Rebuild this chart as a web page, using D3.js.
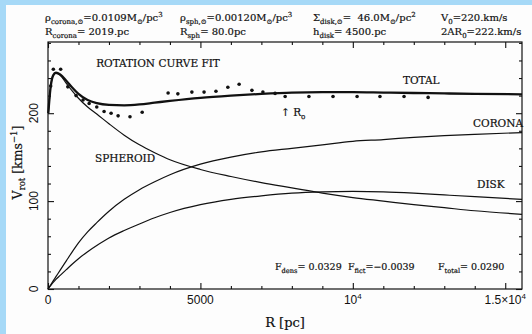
<!DOCTYPE html>
<html>
<head>
<meta charset="utf-8">
<script src="https://cdn.jsdelivr.net/npm/d3@7"></script>
<style>
  html, body { margin: 0; padding: 0; background: #fff; }
  svg { display: block; }
  .serif { font-family: "DejaVu Serif", "Liberation Serif", serif; fill: #111; stroke: #111; stroke-width: 0.2; white-space: pre; }
  .sans { font-family: "Liberation Sans", Arial, sans-serif; fill: #111; }
</style>
</head>
<body>
<div id="chart"></div>
<script>
// radius grid (pc) shared by the model curves
const radii = [0, 10, 80, 170, 260, 400, 600, 800, 1000, 1300, 1600, 2000, 2500, 3000, 3500,
  4000, 5000, 6000, 7000, 8000, 9000, 10000, 11000, 12000, 13000, 14000, 15550];

// model rotation curves (km/s)
const totalV = [null, 200, 228, 243, 246, 244, 237, 229, 222, 215, 211.5, 209.5, 209, 210, 212,
  214, 217.5, 220, 222, 223.5, 224, 224, 223.5, 223, 222.5, 222, 221.5];
const spheroidV = [null, 200, 228, 243, 246, 243, 234, 225, 217, 207, 199, 188, 175, 164, 155,
  147, 136, 128, 121, 115, 109, 104, 100, 96, 92.5, 89, 85];
const coronaV = [0, 0.5, 4.3, 9.2, 14, 21.5, 32, 42.5, 52.5, 65, 75.5, 88.5, 102, 113, 122,
  130, 142, 150, 156, 160, 164, 168, 170, 172.5, 174.5, 176, 178];
const diskV = [0, 0.5, 3.6, 7.5, 11, 15.5, 22, 28.5, 34.5, 42.5, 49.5, 58, 66.5, 74, 81,
  87, 96, 102, 106, 109, 110.5, 111, 110.5, 109, 107, 105, 102];

// observed points
const obsR = [88, 175, 415, 650, 920, 1150, 1350, 1600, 1840, 2070, 2300, 2690, 3090, 3940, 4260,
  4720, 5120, 5510, 5900, 6270, 6690, 7050, 7450, 7780, 8560, 9350, 10140, 10890, 11680, 12470];
const obsV = [231, 250, 250, 230, 220, 215, 211, 207, 202, 200, 197, 196, 201, 223, 222,
  224, 224, 225, 229.5, 233, 226, 224, 222.5, 219, 219, 219, 219, 219, 219, 218];

// ticks
const xMajor = [0, 5000, 10000, 15000];
const xMinor = d3.range(1000, 15001, 1000).filter(d => d % 5000 !== 0);
const yMajor = [0, 100, 200];
const yMinor = d3.range(20, 281, 20).filter(d => d % 100 !== 0);

const width = 532, height = 334;
const plot = { left: 48, right: 522, top: 42, bottom: 289 };

const svg = d3.select("#chart").append("svg")
  .attr("width", width).attr("height", height);

// light blue scan border
svg.append("rect").attr("width", width).attr("height", height).attr("fill", "#a6d9f7");
svg.append("rect").attr("x", 6).attr("y", 5).attr("width", width - 6).attr("height", height - 5)
  .attr("fill", "#fdfdfd");

const x = d3.scaleLinear().domain([0, 15550]).range([plot.left, plot.right]);
const y = d3.scaleLinear().domain([0, 281]).range([plot.bottom, plot.top]);

// axes: inward ticks on all four sides
function tickAxis(axisFn, scale, vals, size, pos) {
  const g = svg.append("g")
    .attr("transform", pos)
    .call(axisFn(scale).tickValues(vals).tickSize(-size).tickSizeOuter(0).tickFormat(""));
  g.select(".domain").remove();
  g.selectAll("line").attr("stroke", "#111").attr("stroke-width", 1.1);
  return g;
}
tickAxis(d3.axisBottom, x, xMinor, 3, `translate(0,${plot.bottom})`);
tickAxis(d3.axisBottom, x, xMajor, 6, `translate(0,${plot.bottom})`);
tickAxis(d3.axisTop, x, xMinor, 3, `translate(0,${plot.top})`);
tickAxis(d3.axisTop, x, xMajor, 6, `translate(0,${plot.top})`);
tickAxis(d3.axisLeft, y, yMinor, 3, `translate(${plot.left},0)`);
tickAxis(d3.axisLeft, y, yMajor, 6, `translate(${plot.left},0)`);
tickAxis(d3.axisRight, y, yMinor, 3, `translate(${plot.right},0)`);
tickAxis(d3.axisRight, y, yMajor, 6, `translate(${plot.right},0)`);

svg.append("rect")
  .attr("x", plot.left).attr("y", plot.top)
  .attr("width", plot.right - plot.left).attr("height", plot.bottom - plot.top)
  .attr("fill", "none").attr("stroke", "#111").attr("stroke-width", 1.2);

// x tick labels
const xLab = svg.append("g").attr("class", "sans").attr("font-size", 12).attr("text-anchor", "middle");
xMajor.forEach(v => {
  const t = xLab.append("text").attr("x", x(v)).attr("y", plot.bottom + 15);
  if (v < 10000) { t.text(v); return; }
  t.append("tspan").text(v === 10000 ? "10" : "1.5\u00d710");
  t.append("tspan").attr("dy", -5).attr("font-size", 8).text("4");
});

// y tick labels, rotated
yMajor.forEach(v => {
  svg.append("text").attr("class", "sans").attr("font-size", 12)
    .attr("text-anchor", "middle")
    .attr("transform", `translate(${plot.left - 14},${y(v)}) rotate(-90)`)
    .attr("dy", "0.35em")
    .text(v);
});

// rich text helper: parts of [text, "sub"|"sup"|undefined]
function rich(xp, yp, parts, size, anchor) {
  const t = svg.append("text").attr("class", "serif").attr("x", xp).attr("y", yp)
    .attr("font-size", size).attr("text-anchor", anchor || "start");
  let shift = 0;
  parts.forEach(([s, kind]) => {
    const want = kind === "sub" ? 2.5 : kind === "sup" ? -4.5 : 0;
    t.append("tspan").attr("dy", want - shift)
      .attr("font-size", kind ? size * 0.7 : size).text(s);
    shift = want;
  });
  return t;
}

// header parameters
const hs = 10;
rich(45, 21, [["\u03c1"], ["corona,\u2299", "sub"], ["=0.0109M"], ["\u2299", "sub"], ["/pc"], ["3", "sup"]], hs);
rich(45, 35, [["R"], ["corona", "sub"], ["= 2019.pc"]], hs);
rich(180, 21, [["\u03c1"], ["sph,\u2299", "sub"], ["=0.00120M"], ["\u2299", "sub"], ["/pc"], ["3", "sup"]], hs);
rich(180, 35, [["R"], ["sph", "sub"], ["= 80.0pc"]], hs);
rich(313, 21, [["\u03a3"], ["disk,\u2299", "sub"], ["=  46.0M"], ["\u2299", "sub"], ["/pc"], ["2", "sup"]], hs);
rich(313, 35, [["h"], ["disk", "sub"], ["= 4500.pc"]], hs);
rich(441, 21, [["V"], ["0", "sub"], ["=220.km/s"]], hs);
rich(441, 35, [["2AR"], ["0", "sub"], ["=222.km/s"]], hs);

// axis titles
rich(285, 327, [["R [pc]"]], 13, "middle");
svg.append("g").attr("transform", `translate(22,${(plot.top + plot.bottom) / 2 - 3}) rotate(-90)`)
  .append("text").attr("class", "serif").attr("font-size", 12.5).attr("text-anchor", "middle")
  .call(t => {
    t.append("tspan").text("V");
    t.append("tspan").attr("dy", 3).attr("font-size", 8.5).text("rot");
    t.append("tspan").attr("dy", -3).text(" [kms");
    t.append("tspan").attr("dy", -5).attr("font-size", 8.5).text("\u22121");
    t.append("tspan").attr("dy", 5).text("]");
  });

// model curves
const line = vals => d3.line()
  .defined((d, i) => vals[i] !== null)
  .x(d => x(d))
  .y((d, i) => y(vals[i]))
  .curve(d3.curveMonotoneX)(radii);

[[spheroidV, 1.2], [coronaV, 1.2], [diskV, 1.2], [totalV, 2.3]].forEach(([vals, w]) => {
  svg.append("path").attr("d", line(vals))
    .attr("fill", "none").attr("stroke", "#111").attr("stroke-width", w);
});

// observed points
svg.append("g").selectAll("circle")
  .data(obsR)
  .join("circle")
  .attr("cx", d => x(d))
  .attr("cy", (d, i) => y(obsV[i]))
  .attr("r", 1.8)
  .attr("fill", "#111");

// curve labels
rich(158, 67, [["ROTATION CURVE FIT"]], 10.5, "middle");
rich(403, 84, [["TOTAL"]], 10.5);
rich(523, 127, [["CORONA"]], 10.5, "end");
rich(477, 188, [["DISK"]], 10.5);
rich(95, 162, [["SPHEROID"]], 10.5);
rich(281, 116, [["\u2191 R"], ["o", "sub"]], 10.5);

// fit statistics
rich(275, 270, [["F"], ["dens", "sub"], ["= 0.0329"]], 9.5);
rich(348, 270, [["F"], ["fict", "sub"], ["=\u22120.0039"]], 9.5);
rich(438, 270, [["F"], ["total", "sub"], ["= 0.0290"]], 9.5);
</script>
</body>
</html>
